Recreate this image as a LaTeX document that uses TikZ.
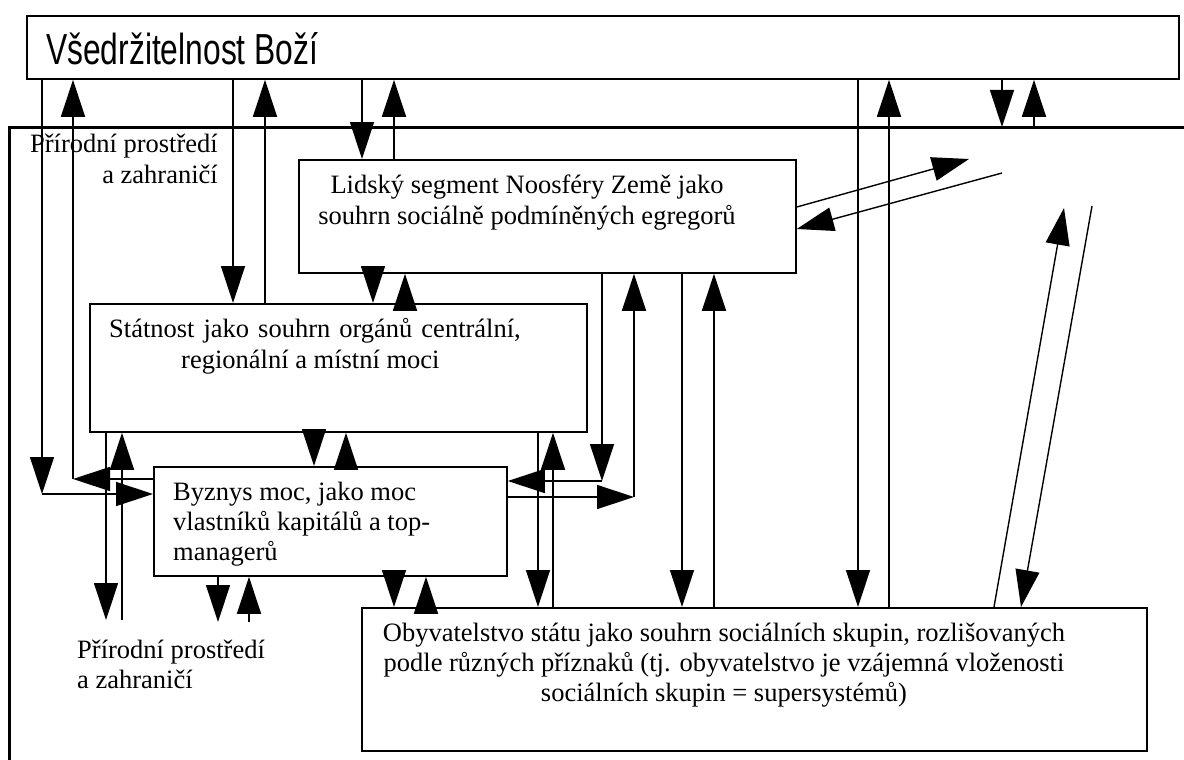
\documentclass[tikz,border=0pt]{standalone}
\usepackage{graphicx}
\usepackage{fontspec}
\setmainfont{Liberation Serif}
\newfontfamily\titlefont{Liberation Sans}
\usetikzlibrary{arrows.meta}
\begin{document}
\begin{tikzpicture}[x=1pt,y=-1pt,
  box/.style={draw, line width=1.8pt, inner sep=0pt, anchor=north west},
  con/.style={line width=1.4pt},
  arr/.style={con, -{Triangle[length=37pt,width=24pt]}},
  txt/.style={font=\fontsize{26.5}{31}\selectfont, inner sep=0pt},
]
\useasboundingbox (0,0) rectangle (1184,760);
% outer frame
\coordinate (frameTL) at (9,127);
\draw[line width=3pt] (9,762) -- (frameTL) -- (1186,127);

% boxes
\node[box, minimum width=1152pt, minimum height=63pt] (top) at (26,15) {};
\node[box, minimum width=497pt, minimum height=113pt] (noo) at (298,159) {};
\node[box, minimum width=497pt, minimum height=128pt] (sta) at (89,303) {};
\node[box, minimum width=353pt, minimum height=109pt] (byz) at (153,466) {};
\node[box, minimum width=785pt, minimum height=143pt] (oby) at (361,607) {};

% texts
\node[inner sep=0pt, anchor=base west] (ttop) at (46,65) {\titlefont\resizebox{272pt}{32pt}{Všedržitelnost Boží}};
\node[txt, anchor=base east] (lab1a) at (218,152) {Přírodní prostředí};
\node[txt, anchor=base east] (lab1b) at (218,183) {a zahraničí};
\node[txt, anchor=base] (tnoo1) at (527,193) {Lidský segment Noosféry Země jako};
\node[txt, anchor=base] (tnoo2) at (527,224) {souhrn sociálně podmíněných egregorů};
\node[txt, anchor=base west] (tsta1) at (109,337) {\spaceskip=9pt Státnost jako souhrn orgánů centrální,};
\node[txt, anchor=base west] (tsta2) at (181,368) {regionální a místní moci};
\node[txt, anchor=base west] (tbyz1) at (173,500) {Byznys moc, jako moc};
\node[txt, anchor=base west] (tbyz2) at (173,530) {vlastníků kapitálů a top-};
\node[txt, anchor=base west] (tbyz3) at (173,560) {managerů};
\node[txt, anchor=base west] (lab2a) at (77,658) {Přírodní prostředí};
\node[txt, anchor=base west] (lab2b) at (77,688) {a zahraničí};
\node[txt, anchor=base] (toby1) at (724,641) {Obyvatelstvo státu jako souhrn sociálních skupin, rozlišovaných};
\node[txt, anchor=base] (toby2) at (724,671) {podle různých příznaků (tj. obyvatelstvo je vzájemná vloženosti};
\node[txt, anchor=base] (toby3) at (724,701) {sociálních skupin = supersystémů)};

% free-end coordinates
\coordinate (c1) at (42,494);
\coordinate (c2) at (73,479);
\coordinate (c3) at (602,481);
\coordinate (c4) at (634,497);
\coordinate (d1) at (969,159);
\coordinate (d2) at (1002,173);
\coordinate (d3) at (1064,208);
\coordinate (d4) at (1092,206);
\coordinate (p1) at (106,620);
\coordinate (p2) at (122,620);
\coordinate (p3) at (218,622);
\coordinate (p4) at (249,622);

% top <-> byznys (left loop)
\draw[arr] (42,0 |- top.south) -- (c1);
\draw[arr] (c1) -- (c1 -| byz.west);
\draw[arr] (c2 -| byz.west) -- (c2);
\draw[arr] (c2) -- (73,0 |- top.south);
% top <-> statnost
\draw[arr] (233,0 |- top.south) -- (233,0 |- sta.north);
\draw[arr] (265,0 |- sta.north) -- (265,0 |- top.south);
% top <-> noosfera
\draw[arr] (362,0 |- top.south) -- (362,0 |- noo.north);
\draw[arr] (394,0 |- noo.north) -- (394,0 |- top.south);
% top <-> obyvatelstvo
\draw[arr] (858,0 |- top.south) -- (858,0 |- oby.north);
\draw[arr] (889,0 |- oby.north) -- (889,0 |- top.south);
% top <-> frame
\draw[arr] (1002,0 |- top.south) -- (1002,0 |- frameTL);
\draw[arr] (1034,0 |- frameTL) -- (1034,0 |- top.south);
% noosfera diagonals
\draw[arr] (noo.east |- 0,207) -- (d1);
\draw[arr] (d2) -- (noo.east |- 0,229);
% obyvatelstvo diagonals
\draw[arr] (994,0 |- oby.north) -- (d3);
\draw[arr] (d4) -- (1021,0 |- oby.north);
% noosfera <-> statnost
\draw[arr] (373,0 |- noo.south) -- (373,0 |- sta.north);
\draw[arr] (405,0 |- sta.north) -- (405,0 |- noo.south);
% statnost <-> byznys
\draw[arr] (314,0 |- sta.south) -- (314,0 |- byz.north);
\draw[arr] (346,0 |- byz.north) -- (346,0 |- sta.south);
% statnost <-> lower label
\draw[arr] (106,0 |- sta.south) -- (p1);
\draw[arr] (p2) -- (122,0 |- sta.south);
% byznys <-> lower label
\draw[arr] (218,0 |- byz.south) -- (p3);
\draw[arr] (p4) -- (249,0 |- byz.south);
% byznys <-> obyvatelstvo
\draw[arr] (394,0 |- byz.south) -- (394,0 |- oby.north);
\draw[arr] (426,0 |- oby.north) -- (426,0 |- byz.south);
% statnost <-> obyvatelstvo
\draw[arr] (538,0 |- sta.south) -- (538,0 |- oby.north);
\draw[arr] (553,0 |- oby.north) -- (553,0 |- sta.south);
% noosfera <-> byznys
\draw[arr] (602,0 |- noo.south) -- (c3);
\draw[arr] (c3) -- (c3 -| byz.east);
\draw[arr] (c4 -| byz.east) -- (c4);
\draw[arr] (c4) -- (634,0 |- noo.south);
% noosfera <-> obyvatelstvo
\draw[arr] (682,0 |- noo.south) -- (682,0 |- oby.north);
\draw[arr] (714,0 |- oby.north) -- (714,0 |- noo.south);
\end{tikzpicture}
\end{document}
